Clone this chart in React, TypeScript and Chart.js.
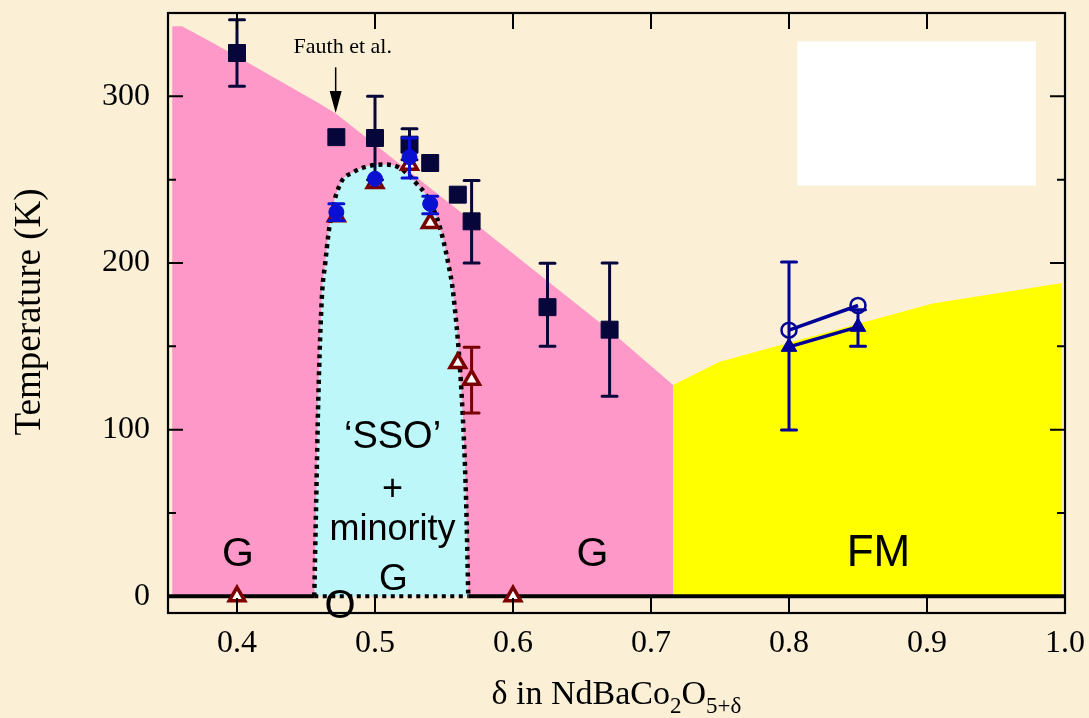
import React, { useEffect, useRef } from "react";
import { Chart, registerables } from "chart.js";
Chart.register(...registerables);

// ---- axis ticks ----
const xTickValues = [0.4, 0.5, 0.6, 0.7, 0.8, 0.9, 1.0];
const yTickValues = [0, 50, 100, 150, 200, 250, 300];

// ---- phase regions (boundaries) ----
const pinkX = [0.353, 0.36, 0.3686, 0.3928, 0.4603, 0.4718, 0.576, 0.6243, 0.67, 0.716];
const pinkT = [342, 342, 338.3, 327.4, 295.4, 289.5, 221.5, 189.6, 159.7, 126.8];

const yellowX = [0.716, 0.7497, 0.904, 0.998];
const yellowT = [126.8, 140.7, 175.7, 188];

const domeX = [0.456, 0.4574, 0.4589, 0.4615, 0.4639, 0.4663, 0.4687, 0.4748, 0.4844, 0.4941, 0.5061, 0.5158, 0.5235, 0.5302, 0.5363, 0.5447, 0.5495, 0.5531, 0.5567, 0.563, 0.566, 0.5676];
const domeT = [0, 58, 118, 179.6, 199.6, 217.6, 230.5, 247.5, 254.5, 257.9, 259.1, 257.9, 253.5, 247.5, 241.6, 227.5, 213.6, 199.6, 181.7, 117.8, 57.9, 0];

// ---- measured points ----
const navyX = [0.4, 0.472, 0.5, 0.525, 0.54, 0.56, 0.57, 0.625, 0.67];
const navyT = [326, 275.5, 275, 271, 260, 241, 225, 173.5, 160];
const navyLo = [306, null, 250, 262, null, null, 200, 150, 120];
const navyHi = [346, null, 300, 280.5, null, null, 249.5, 199.8, 200];

const redX = [0.4, 0.472, 0.5, 0.525, 0.54, 0.56, 0.57, 0.6];
const redT = [0, 228, 248, 259, 224, 140, 130, 0];
const redLo = [null, null, null, null, null, null, 110, null];
const redHi = [null, null, null, null, null, null, 149.5, null];

const blueX = [0.472, 0.5, 0.525, 0.54];
const blueT = [230.5, 250.5, 263.5, 235.5];
const blueLo = [225.5, null, 251, 229.6];
const blueHi = [235.5, null, 275, 240];

const fmCircleX = [0.8, 0.85];
const fmCircleT = [159.7, 174.5];
const fmTriX = [0.8, 0.85];
const fmTriT = [149.7, 161.7];
const fmTriLo = [99.8, 150];
const fmTriHi = [200.6, 172];

// ---- labels ----
const phaseLabels = ["G", "\u2018SSO\u2019", "+", "minority", "G", "G", "FM", "O"];
const phaseLabelX = [0.4006, 0.5127, 0.5127, 0.5127, 0.5133, 0.6575, 0.8648, 0.4747];
const phaseLabelT = [18.5, 88.9, 57.9, 34, 4, 18.5, 18, -12.9];
const phaseLabelSize = [41, 38, 36, 36, 37, 41, 44, 40];

const refLabel = "Fauth et al.";
const refLabelX = 0.4766;
const refLabelT = 326.3;
const refArrowX = 0.4715;
const refArrowFrom = 317.4;
const refArrowTo = 290;

const boxX = [0.806, 0.979];
const boxT = [246.5, 333];

const pts = (xs: number[], ys: number[]) => xs.map((x, i) => ({ x, y: ys[i] }));

const SERIF = '"Liberation Serif", "Times New Roman", serif';
const SANS = '"Liberation Sans", Arial, sans-serif';

const errorBarPlugin = {
  id: "errorBars",
  beforeDatasetDraw(chart: any, args: any) {
    const ds = chart.data.datasets[args.index];
    if (!ds.errLo) return;
    const { ctx } = chart;
    const xs = chart.scales.x;
    const ys = chart.scales.y;
    ctx.save();
    ctx.strokeStyle = ds.errColor;
    ctx.lineWidth = 3;
    ctx.lineCap = "round";
    ds.data.forEach((p: any, i: number) => {
      const lo = ds.errLo[i];
      const hi = ds.errHi[i];
      if (lo == null || hi == null) return;
      const px = xs.getPixelForValue(p.x);
      const yl = ys.getPixelForValue(lo);
      const yh = ys.getPixelForValue(hi);
      ctx.beginPath();
      ctx.moveTo(px, yl);
      ctx.lineTo(px, yh);
      ctx.moveTo(px - 7.5, yl);
      ctx.lineTo(px + 7.5, yl);
      ctx.moveTo(px - 7.5, yh);
      ctx.lineTo(px + 7.5, yh);
      ctx.stroke();
    });
    ctx.restore();
  },
};

const decorPlugin = {
  id: "decor",
  beforeDatasetsDraw(chart: any) {
    const { ctx } = chart;
    const xs = chart.scales.x;
    const ys = chart.scales.y;
    ctx.save();
    ctx.fillStyle = "#ffffff";
    const x0 = xs.getPixelForValue(boxX[0]);
    const x1 = xs.getPixelForValue(boxX[1]);
    const y0 = ys.getPixelForValue(boxT[1]);
    const y1 = ys.getPixelForValue(boxT[0]);
    ctx.fillRect(x0, y0, x1 - x0, y1 - y0);
    ctx.restore();
  },
  afterDatasetsDraw(chart: any) {
    const { ctx, chartArea: a } = chart;
    const xs = chart.scales.x;
    const ys = chart.scales.y;
    ctx.save();
    // frame
    ctx.strokeStyle = "#000";
    ctx.lineWidth = 2.2;
    ctx.strokeRect(a.left, a.top, a.right - a.left, a.bottom - a.top);
    // ticks
    ctx.lineWidth = 2;
    ctx.beginPath();
    yTickValues.forEach((v) => {
      const py = ys.getPixelForValue(v);
      const len = v % 100 === 0 ? 15 : 8;
      ctx.moveTo(a.left, py);
      ctx.lineTo(a.left + len, py);
      ctx.moveTo(a.right, py);
      ctx.lineTo(a.right - len, py);
    });
    xTickValues.forEach((v) => {
      const px = xs.getPixelForValue(v);
      ctx.moveTo(px, a.top);
      ctx.lineTo(px, a.top + 16);
      ctx.moveTo(px, a.bottom);
      ctx.lineTo(px, a.bottom - 15);
    });
    ctx.stroke();

    // phase labels
    ctx.fillStyle = "#000";
    ctx.textAlign = "center";
    ctx.textBaseline = "alphabetic";
    phaseLabels.forEach((t, i) => {
      ctx.font = `${phaseLabelSize[i]}px ${SANS}`;
      ctx.fillText(t, xs.getPixelForValue(phaseLabelX[i]), ys.getPixelForValue(phaseLabelT[i]));
    });

    // reference label + arrow
    ctx.font = `22px ${SERIF}`;
    ctx.fillText(refLabel, xs.getPixelForValue(refLabelX), ys.getPixelForValue(refLabelT));
    const ax = xs.getPixelForValue(refArrowX);
    const ay0 = ys.getPixelForValue(refArrowFrom);
    const ay1 = ys.getPixelForValue(refArrowTo);
    ctx.lineWidth = 1.5;
    ctx.beginPath();
    ctx.moveTo(ax, ay0);
    ctx.lineTo(ax, ay1 - 15);
    ctx.stroke();
    ctx.beginPath();
    ctx.moveTo(ax - 6, ay1 - 22);
    ctx.lineTo(ax + 6, ay1 - 22);
    ctx.lineTo(ax, ay1);
    ctx.closePath();
    ctx.fill();

    // y title
    ctx.save();
    ctx.translate(40, (a.top + a.bottom) / 2 - 1);
    ctx.rotate(-Math.PI / 2);
    ctx.font = `37px ${SERIF}`;
    ctx.textAlign = "center";
    ctx.fillText("Temperature (K)", 0, 0);
    ctx.restore();

    // x title with subscripts
    const big = `34px ${SERIF}`;
    const small = `23px ${SERIF}`;
    const parts: [string, string, number][] = [
      ["\u03b4 in NdBaCo", big, 0],
      ["2", small, 9],
      ["O", big, 0],
      ["5+\u03b4", small, 9],
    ];
    let total = 0;
    parts.forEach(([t, f]) => {
      ctx.font = f;
      total += ctx.measureText(t).width;
    });
    let cx = (a.left + a.right) / 2 - total / 2;
    const base = a.bottom + 91;
    ctx.textAlign = "left";
    parts.forEach(([t, f, dy]) => {
      ctx.font = f;
      ctx.fillText(t, cx, base + dy);
      cx += ctx.measureText(t).width;
    });
    ctx.restore();
  },
};

export default function App() {
  const ref = useRef<HTMLCanvasElement>(null);
  useEffect(() => {
    document.body.style.margin = "0";
    const navy = "#06063a";
    const red = "#7a0000";
    const blue = "#0a10d2";
    const fm = "#000096";
    const chart = new Chart(ref.current!, {
      type: "line",
      data: {
        datasets: [
          {
            label: "FM circles",
            data: pts(fmCircleX, fmCircleT),
            borderColor: fm,
            borderWidth: 3.5,
            pointStyle: "circle",
            pointRadius: 7.5,
            pointBorderWidth: 2.5,
            pointBackgroundColor: "rgba(0,0,0,0)",
            pointBorderColor: fm,
            fill: false,
            order: 1,
          } as any,
          {
            label: "FM triangles",
            data: pts(fmTriX, fmTriT),
            borderColor: fm,
            borderWidth: 3.5,
            pointStyle: "triangle",
            pointRadius: 9,
            pointBorderWidth: 1,
            pointBackgroundColor: fm,
            pointBorderColor: fm,
            fill: false,
            errLo: fmTriLo,
            errHi: fmTriHi,
            errColor: fm,
            order: 2,
          } as any,
          {
            label: "blue",
            data: pts(blueX, blueT),
            showLine: false,
            pointStyle: "circle",
            pointRadius: 7.5,
            pointBorderWidth: 1,
            pointBackgroundColor: blue,
            pointBorderColor: blue,
            errLo: blueLo,
            errHi: blueHi,
            errColor: blue,
            order: 3,
          } as any,
          {
            label: "red",
            data: pts(redX, redT),
            showLine: false,
            pointStyle: "triangle",
            pointRadius: 9,
            pointBorderWidth: 3.5,
            pointBackgroundColor: "#ffffff",
            pointBorderColor: red,
            errLo: redLo,
            errHi: redHi,
            errColor: red,
            order: 4,
          } as any,
          {
            label: "navy",
            data: pts(navyX, navyT),
            showLine: false,
            pointStyle: "rect",
            pointRadius: 12,
            pointBorderWidth: 1,
            pointBackgroundColor: navy,
            pointBorderColor: navy,
            errLo: navyLo,
            errHi: navyHi,
            errColor: navy,
            order: 5,
          } as any,
          {
            label: "zero dotted",
            data: pts([domeX[0], domeX[domeX.length - 1]], [0, 0]),
            borderColor: "#000",
            borderWidth: 4,
            borderDash: [4, 4.5],
            pointRadius: 0,
            fill: false,
            order: 6,
          } as any,
          {
            label: "zero left",
            data: pts([0.35, domeX[0]], [0, 0]),
            borderColor: "#000",
            borderWidth: 4,
            pointRadius: 0,
            fill: false,
            order: 7,
          } as any,
          {
            label: "zero right",
            data: pts([domeX[domeX.length - 1], 1.0], [0, 0]),
            borderColor: "#000",
            borderWidth: 4,
            pointRadius: 0,
            fill: false,
            order: 7,
          } as any,
          {
            label: "SSO dome",
            data: pts(domeX, domeT),
            borderColor: "#000",
            borderWidth: 4.5,
            borderDash: [4, 4.5],
            borderCapStyle: "butt",
            cubicInterpolationMode: "monotone",
            pointRadius: 0,
            backgroundColor: "#bdf7fa",
            fill: { value: 0 },
            order: 8,
          } as any,
          {
            label: "FM region",
            data: pts(yellowX, yellowT),
            borderWidth: 0,
            borderColor: "rgba(0,0,0,0)",
            pointRadius: 0,
            backgroundColor: "#ffff00",
            fill: { value: 0 },
            order: 9,
          } as any,
          {
            label: "G region",
            data: pts(pinkX, pinkT),
            borderWidth: 0,
            borderColor: "rgba(0,0,0,0)",
            pointRadius: 0,
            backgroundColor: "#fe98c9",
            fill: { value: 0 },
            order: 10,
          } as any,
        ],
      },
      options: {
        animation: false,
        responsive: false,
        devicePixelRatio: 1,
        layout: { padding: { top: 11, right: 24, left: 0, bottom: 0 } },
        plugins: {
          legend: { display: false },
          tooltip: { enabled: false },
        },
        elements: { line: { tension: 0 } },
        scales: {
          x: {
            type: "linear",
            min: 0.35,
            max: 1.0,
            grid: { display: false },
            border: { display: false },
            afterBuildTicks: (s: any) => {
              s.ticks = xTickValues.map((v) => ({ value: v }));
            },
            afterFit: (s: any) => {
              s.height = 105;
              s.paddingLeft = 0;
              s.paddingRight = 0;
              s.paddingTop = 0;
              s.paddingBottom = 0;
            },
            ticks: {
              color: "#000",
              padding: 3,
              maxRotation: 0,
              font: { family: SERIF, size: 32 },
              callback: (v: any) => Number(v).toFixed(1),
            },
          },
          y: {
            type: "linear",
            min: -10,
            max: 350,
            grid: { display: false },
            border: { display: false },
            afterBuildTicks: (s: any) => {
              s.ticks = yTickValues.map((v) => ({ value: v }));
            },
            afterFit: (s: any) => {
              s.width = 168;
              s.paddingLeft = 0;
              s.paddingRight = 0;
              s.paddingTop = 0;
              s.paddingBottom = 0;
            },
            ticks: {
              color: "#000",
              padding: 10,
              font: { family: SERIF, size: 32 },
              callback: (v: any) => (Number(v) % 100 === 0 ? String(v) : ""),
            },
          },
        },
      },
      plugins: [errorBarPlugin, decorPlugin],
    });
    return () => chart.destroy();
  }, []);
  return (
    <div
      style={{
        position: "absolute",
        left: 0,
        top: 0,
        width: 1089,
        height: 718,
        background: "#fbf0d6",
      }}
    >
      <canvas ref={ref} width={1089} height={718} />
    </div>
  );
}
